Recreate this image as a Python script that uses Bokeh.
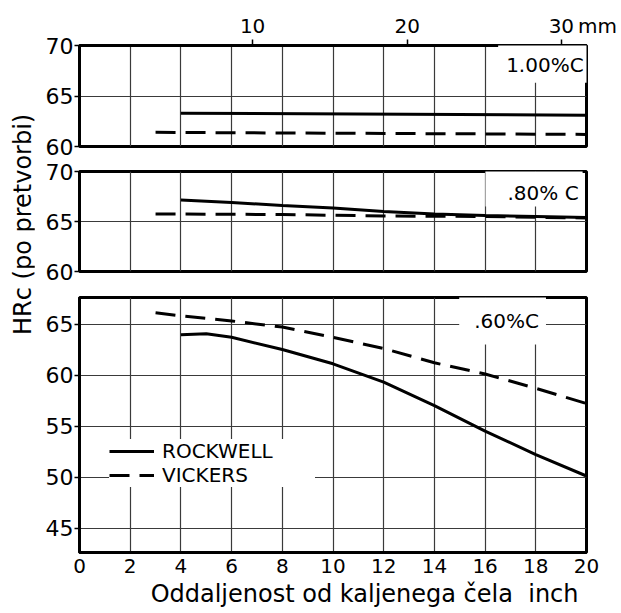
from bokeh.embed import file_html
from bokeh.layouts import column, row
from bokeh.models import (Div, FixedTicker, Grid, Label, Legend, LegendItem, LinearAxis,
                          Range1d, Spacer, Title)
from bokeh.plotting import figure
from bokeh.resources import INLINE

FONT = "DejaVu Sans"

# Distance from the quenched end (sixteenths of an inch) and the mm scale on top
dist_ticks = [0, 2, 4, 6, 8, 10, 12, 14, 16, 18, 20]
dist_grid = [2, 4, 6, 8, 10, 12, 14, 16, 18]
mm_ticks = [10, 20, 30]

# 1.00 % C
x_c100_rockwell = [4, 20]
hrc_c100_rockwell = [63.3, 63.1]
x_c100_vickers = [3, 20]
hrc_c100_vickers = [61.4, 61.2]

# 0.80 % C
x_c080_rockwell = [4, 6, 8, 10, 12, 14, 16, 18, 20]
hrc_c080_rockwell = [67.15, 66.9, 66.6, 66.35, 66.0, 65.75, 65.6, 65.5, 65.4]
x_c080_vickers = [3, 8, 12, 16, 20]
hrc_c080_vickers = [65.75, 65.7, 65.55, 65.5, 65.35]

# 0.60 % C
x_c060_rockwell = [4, 5, 6, 8, 10, 12, 14, 16, 18, 20]
hrc_c060_rockwell = [63.95, 64.05, 63.7, 62.5, 61.1, 59.3, 57.0, 54.5, 52.2, 50.1]
x_c060_vickers = [3, 4, 6, 8, 10, 12, 14, 16, 18, 20]
hrc_c060_vickers = [66.1, 65.8, 65.3, 64.7, 63.7, 62.6, 61.2, 60.1, 58.7, 57.2]

DASH = "20 10"
GRID_COLOR = "#3a3a3a"


def make_panel(height, y_start, y_end, y_ticks, border_top, border_bottom, with_x_axis):
    p = figure(width=587, height=height,
               x_range=Range1d(0, 20), y_range=Range1d(y_start, y_end),
               x_axis_type="linear" if with_x_axis else None,
               output_backend="svg", toolbar_location=None,
               min_border_left=45, min_border_right=35,
               min_border_top=border_top, min_border_bottom=border_bottom)
    p.outline_line_color = "black"
    p.outline_line_width = 3
    p.background_fill_color = "white"
    p.border_fill_color = "white"

    ya = p.yaxis[0]
    ya.ticker = FixedTicker(ticks=y_ticks)
    ya.major_label_text_font = FONT
    ya.major_label_text_font_size = "22px"
    ya.major_label_text_color = "black"
    ya.major_tick_out = 5
    ya.major_tick_in = 0
    ya.minor_tick_out = 0
    ya.minor_tick_in = 0
    ya.major_label_standoff = 1
    ya.axis_line_color = "black"
    ya.axis_line_width = 3
    ya.major_tick_line_width = 1.5

    p.ygrid.grid_line_color = GRID_COLOR
    p.ygrid.grid_line_width = 1.2

    if with_x_axis:
        xa = p.xaxis[0]
        xa.ticker = FixedTicker(ticks=dist_ticks)
        xa.major_label_text_font = FONT
        xa.major_label_text_font_size = "20px"
        xa.major_label_text_color = "black"
        xa.major_tick_out = 0
        xa.major_tick_in = 0
        xa.minor_tick_out = 0
        xa.minor_tick_in = 0
        xa.major_label_standoff = 6
        xa.axis_line_color = "black"
        xa.axis_line_width = 3
        p.xgrid.ticker = FixedTicker(ticks=dist_grid)
        p.xgrid.grid_line_color = GRID_COLOR
        p.xgrid.grid_line_width = 1.2
    else:
        p.add_layout(Grid(dimension=0, ticker=FixedTicker(ticks=dist_grid),
                          grid_line_color=GRID_COLOR, grid_line_width=1.2))
    return p


def composition_label(x, y, text, padding):
    return Label(x=x, y=y, text=text, text_align="center", text_baseline="middle",
                 text_font=FONT, text_font_size="20px", text_color="black",
                 background_fill_color="white", background_fill_alpha=1.0,
                 padding=padding)


# --- 1.00 % C ---
p1 = make_panel(158, 60, 70, [60, 65, 70], 45, 12, False)
p1.extra_x_ranges = {"mm": Range1d(-1.2, 31.6)}
mm_axis = LinearAxis(x_range_name="mm", ticker=FixedTicker(ticks=mm_ticks))
# the unit rides on the last tick label; the figure spaces keep "30" centred on its tick
mm_axis.major_label_overrides = {30: "\u2007\u2007\u2007\u200930\u2009mm"}
mm_axis.major_label_text_font = FONT
mm_axis.major_label_text_font_size = "20px"
mm_axis.major_label_text_color = "black"
mm_axis.major_tick_out = 6
mm_axis.major_tick_in = 0
mm_axis.major_tick_line_width = 1.5
mm_axis.minor_tick_out = 0
mm_axis.minor_tick_in = 0
mm_axis.major_label_standoff = 2
mm_axis.axis_line_color = "black"
mm_axis.axis_line_width = 3
p1.add_layout(mm_axis, "above")
p1.line(x_c100_rockwell, hrc_c100_rockwell, line_color="black", line_width=3)
p1.line(x_c100_vickers, hrc_c100_vickers, line_color="black", line_width=3, line_dash=DASH)
p1.add_layout(composition_label(18.28, 68.4, "1.00%C",
                                dict(left=8, right=4, top=12, bottom=6)))

# --- 0.80 % C ---
p2 = make_panel(126, 60, 70, [60, 65, 70], 13, 13, False)
p2.line(x_c080_rockwell, hrc_c080_rockwell, line_color="black", line_width=3)
p2.line(x_c080_vickers, hrc_c080_vickers, line_color="black", line_width=3, line_dash=DASH)
p2.add_layout(composition_label(17.93, 68.4, ".80% C",
                                dict(left=22, right=4, top=12, bottom=2)))

# --- 0.60 % C ---
p3 = make_panel(329, 42.6, 67.6, [45, 50, 55, 60, 65], 13, 61, True)
r_rw = p3.line(x_c060_rockwell, hrc_c060_rockwell, line_color="black", line_width=3)
r_vk = p3.line(x_c060_vickers, hrc_c060_vickers, line_color="black", line_width=3, line_dash=DASH)
p3.add_layout(composition_label(16.69, 65.54, ".60%C",
                                dict(left=15, right=7, top=16, bottom=12)))

# distance axis title, right-aligned under the scale
p3.add_layout(Title(text="Oddaljenost od kaljenega čela\u00a0 inch", align="right", offset=8,
                    standoff=5, text_font=FONT, text_font_size="24px",
                    text_font_style="normal", text_color="black"), "below")

legend = Legend(items=[LegendItem(label="ROCKWELL", renderers=[r_rw]),
                       LegendItem(label="VICKERS", renderers=[r_vk])],
                location=(30, 65), orientation="vertical",
                background_fill_color="white", background_fill_alpha=1.0,
                border_line_color=None, padding=14, spacing=0, margin=0,
                glyph_width=45, glyph_height=22, label_width=153, label_height=22,
                label_standoff=8, label_text_font=FONT, label_text_font_size="20px",
                label_text_color="black")
p3.add_layout(legend)

# Shared vertical hardness label on the left, reading bottom to top
side_label = Div(
    text=("<div style=\"box-sizing:border-box;width:34px;height:449px;display:flex;"
          "align-items:center;justify-content:center;writing-mode:vertical-rl;"
          "transform:rotate(180deg);padding-right:12px;white-space:nowrap;"
          "font-family:'DejaVu Sans';font-size:24px;color:black;\">HRc (po pretvorbi)</div>"),
    width=34, height=449, margin=0)
side = column(side_label, Spacer(width=34, height=164, margin=0), margin=0)

layout = row(side, column(p1, p2, p3, margin=0), margin=0)

with open("out.html", "w") as f:
    f.write(file_html(layout, INLINE))
